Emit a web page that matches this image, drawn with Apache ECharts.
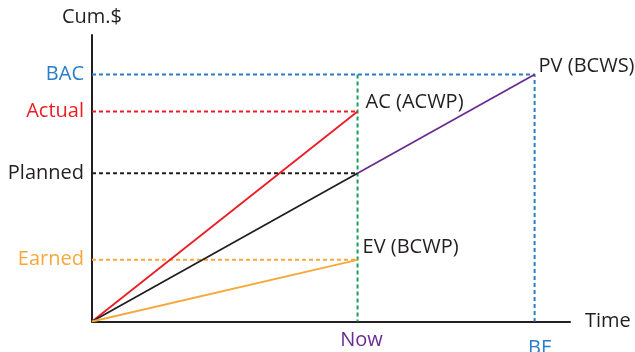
<!DOCTYPE html>
<html>
<head>
<meta charset="utf-8">
<script src="https://cdn.jsdelivr.net/npm/echarts@6/dist/echarts.min.js"></script>
<style>
  html, body { margin: 0; padding: 0; background: #fff; }
  #chart { width: 635px; height: 352px; }
</style>
</head>
<body>
<div id="chart"></div>
<script>
// Earned value chart: cumulative cost against time
const nowTime = 6;        // status date
const finishTime = 10;    // baseline finish (BF)
const timeMax = 10.8;
const costMax = 116;

const levelNames  = ['Earned', 'Planned', 'Actual', 'BAC'];
const levelValues = [25, 60, 85, 100];
const levelColors = ['#f7a83c', '#231f20', '#ec1c24', '#2a7dc6'];

const timeNames  = ['Now', 'BF'];
const timeValues = [nowTime, finishTime];

// curve end points
const acPoints = [[0, 0], [nowTime, 85]];
const plannedPoints = [[0, 0], [nowTime, 60]];
const pvPoints = [[nowTime, 60], [finishTime, 100]];
const evPoints = [[0, 0], [nowTime, 25]];

const curveNames = ['AC (ACWP)', 'PV (BCWS)', 'EV (BCWP)'];

const FONT = '"Open Sans", "Noto Sans", sans-serif';
const FS = 20;

function guide(points, color, dash) {
  return {
    type: 'line', data: points, symbol: 'none', silent: true, z: 1,
    lineStyle: { color: color, width: 2, type: dash }
  };
}

const yRich = {};
levelNames.forEach((n, i) => { yRich['l' + i] = { color: levelColors[i], fontSize: FS, fontFamily: FONT }; });

const chart = echarts.init(document.getElementById('chart'));
chart.setOption({
  animation: false,
  grid: { left: 92, right: 65, top: 35, bottom: 30.5, outerBoundsMode: 'none', containLabel: false },
  xAxis: {
    type: 'value', min: 0, max: timeMax,
    name: 'Time', nameLocation: 'end', nameGap: 15,
    nameTextStyle: { color: '#231f20', fontSize: FS, fontFamily: FONT, verticalAlign: 'middle', padding: [0, 0, 12, 0] },
    axisLine: { show: true, lineStyle: { color: '#231f20', width: 2 } },
    axisTick: { show: false },
    splitLine: { show: false },
    axisLabel: {
      customValues: timeValues, margin: 9,
      formatter: v => {
        const i = timeValues.indexOf(v);
        return i === 0 ? '{now|' + timeNames[0] + '}' : '{bf|' + timeNames[1] + '}';
      },
      rich: {
        now: { color: '#6a2c91', fontSize: FS, fontFamily: FONT, padding: [0, 0, 0, 8] },
        bf: { color: '#2a7dc6', fontSize: FS, fontFamily: FONT, padding: [8, 0, 0, 10] }
      }
    }
  },
  yAxis: {
    type: 'value', min: 0, max: costMax,
    name: 'Cum.$', nameLocation: 'end', nameGap: 8,
    nameTextStyle: { color: '#231f20', fontSize: FS, fontFamily: FONT, align: 'center' },
    axisLine: { show: true, lineStyle: { color: '#231f20', width: 2 } },
    axisTick: { show: false },
    splitLine: { show: false },
    axisLabel: {
      customValues: levelValues, margin: 8,
      formatter: v => {
        const i = levelValues.indexOf(v);
        return '{l' + i + '|' + levelNames[i] + '}';
      },
      rich: yRich
    }
  },
  series: [
    // reference guides
    guide([[0, levelValues[3]], [finishTime, levelValues[3]], [finishTime, 0]], levelColors[3], [4, 3]),
    guide([[0, levelValues[2]], [nowTime, levelValues[2]]], levelColors[2], [4, 3]),
    guide([[0, levelValues[1]], [nowTime, levelValues[1]]], levelColors[1], [4, 3]),
    guide([[0, levelValues[0]], [nowTime, levelValues[0]]], levelColors[0], [4, 3]),
    guide([[nowTime, levelValues[3]], [nowTime, 0]], '#17a05d', [4, 3]),
    // curves
    {
      type: 'line', data: acPoints, symbol: 'none', z: 3,
      lineStyle: { color: '#ec1c24', width: 1.8 },
      endLabel: { show: true, formatter: curveNames[0], color: '#231f20', fontSize: FS, fontFamily: FONT, distance: 8, offset: [0, -9] }
    },
    {
      type: 'line', data: plannedPoints, symbol: 'none', z: 3,
      lineStyle: { color: '#231f20', width: 1.8 }
    },
    {
      type: 'line', data: pvPoints, symbol: 'none', z: 3,
      lineStyle: { color: '#6a2c91', width: 1.8 },
      endLabel: { show: true, formatter: curveNames[1], color: '#231f20', fontSize: FS, fontFamily: FONT, distance: 4, offset: [0, -8] }
    },
    {
      type: 'line', data: evPoints, symbol: 'none', z: 3,
      lineStyle: { color: '#f7a83c', width: 1.8 },
      endLabel: { show: true, formatter: curveNames[2], color: '#231f20', fontSize: FS, fontFamily: FONT, distance: 5, offset: [0, -12] }
    }
  ]
});
</script>
</body>
</html>
